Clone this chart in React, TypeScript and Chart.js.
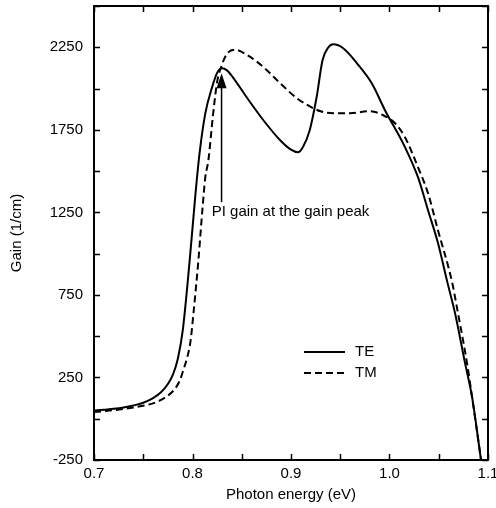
import React, { useEffect, useRef } from "react";
import { Chart, registerables } from "chart.js";

Chart.register(...registerables);

const teX = [0.7, 0.71, 0.72, 0.73, 0.74, 0.75, 0.76, 0.768, 0.775, 0.78, 0.785, 0.79, 0.797, 0.803, 0.807, 0.813, 0.82, 0.825, 0.83, 0.835, 0.841, 0.855, 0.872, 0.889, 0.9, 0.907, 0.912, 0.919, 0.926, 0.932, 0.938, 0.943, 0.953, 0.967, 0.982, 0.9954, 1.0157, 1.0289, 1.0391, 1.0492, 1.0584, 1.0665, 1.0767, 1.0838, 1.0929];
const teY = [50, 55, 60, 68, 80, 97, 125, 160, 210, 265, 360, 530, 950, 1360, 1600, 1850, 2010, 2095, 2123, 2110, 2068, 1947, 1808, 1687, 1630, 1614, 1645, 1748, 1947, 2171, 2250, 2268, 2244, 2153, 2032, 1869, 1645, 1463, 1263, 1064, 835, 640, 337, 132, -250];

const tmX = [0.7, 0.72, 0.74, 0.755, 0.765, 0.775, 0.782, 0.787, 0.791, 0.795, 0.798, 0.801, 0.806, 0.81, 0.813, 0.816, 0.821, 0.825, 0.829, 0.835, 0.843, 0.855, 0.872, 0.889, 0.906, 0.917, 0.93, 0.943, 0.96, 0.98, 0.993, 1.0056, 1.0157, 1.0289, 1.0391, 1.0492, 1.0635, 1.0695, 1.0787, 1.0838, 1.093];
const tmY = [40, 52, 68, 85, 105, 140, 180, 230, 300, 380, 470, 640, 960, 1263, 1463, 1560, 1850, 2040, 2130, 2210, 2235, 2205, 2130, 2032, 1941, 1899, 1862, 1850, 1850, 1863, 1840, 1790, 1705, 1524, 1366, 1142, 828, 640, 337, 132, -250];

const seriesNames = ["TE", "TM"];
const xTitle = "Photon energy (eV)";
const yTitle = "Gain (1/cm)";
const annotationText = "PI gain at the gain peak";
const arrowX = 0.8295;
const arrowFromY = 1312;
const arrowToY = 2093;
const annotationTextX = 0.8195;
const annotationTextY = 1251;
const legendX = [0.9132, 0.9548, 0.9650];
const legendY = [404, 277];

const FONT = "'Liberation Sans', Arial, Helvetica, sans-serif";

const decorPlugin = {
  id: "decor",
  afterDraw(chart: any) {
    const { ctx, chartArea: a, scales } = chart;
    const xs = scales.x;
    const ys = scales.y;
    ctx.save();
    ctx.strokeStyle = "#000";
    ctx.fillStyle = "#000";
    // inward ticks
    ctx.lineWidth = 1.5;
    const tl = 6;
    ctx.beginPath();
    for (const t of xs.ticks) {
      const px = Math.round(xs.getPixelForValue(t.value)) + 0.5;
      ctx.moveTo(px, a.bottom);
      ctx.lineTo(px, a.bottom - tl);
      ctx.moveTo(px, a.top);
      ctx.lineTo(px, a.top + tl);
    }
    for (const t of ys.ticks) {
      const py = Math.round(ys.getPixelForValue(t.value)) + 0.5;
      ctx.moveTo(a.left, py);
      ctx.lineTo(a.left + tl, py);
      ctx.moveTo(a.right, py);
      ctx.lineTo(a.right - tl, py);
    }
    ctx.stroke();
    // frame
    ctx.lineWidth = 2;
    ctx.strokeRect(a.left, a.top, a.right - a.left, a.bottom - a.top);

    // arrow
    const ax = xs.getPixelForValue(arrowX);
    const ay0 = ys.getPixelForValue(arrowFromY);
    const ay1 = ys.getPixelForValue(arrowToY);
    ctx.lineWidth = 1.5;
    ctx.beginPath();
    ctx.moveTo(ax, ay0);
    ctx.lineTo(ax, ay1 + 12);
    ctx.stroke();
    ctx.beginPath();
    ctx.moveTo(ax, ay1);
    ctx.lineTo(ax - 5, ay1 + 15);
    ctx.lineTo(ax + 5, ay1 + 15);
    ctx.closePath();
    ctx.fill();

    ctx.font = `15px ${FONT}`;
    ctx.textBaseline = "middle";
    ctx.textAlign = "left";
    ctx.fillText(annotationText, xs.getPixelForValue(annotationTextX), ys.getPixelForValue(annotationTextY));

    // legend
    const lx0 = xs.getPixelForValue(legendX[0]);
    const lx1 = xs.getPixelForValue(legendX[1]);
    const tx = xs.getPixelForValue(legendX[2]);
    for (let i = 0; i < seriesNames.length; i++) {
      const py = ys.getPixelForValue(legendY[i]);
      ctx.lineWidth = 2;
      ctx.setLineDash(i === 0 ? [] : [7, 4]);
      ctx.beginPath();
      ctx.moveTo(lx0, py);
      ctx.lineTo(lx1, py);
      ctx.stroke();
      ctx.setLineDash([]);
      ctx.fillText(seriesNames[i], tx, py);
    }
    ctx.restore();
  },
};

export default function App() {
  const ref = useRef<HTMLCanvasElement | null>(null);
  useEffect(() => {
    if (!ref.current) return;
    const chart = new Chart(ref.current, {
      type: "line",
      data: {
        datasets: [
          {
            label: seriesNames[0],
            data: teX.map((x, i) => ({ x, y: teY[i] })),
            borderColor: "#000",
            borderWidth: 2,
            pointRadius: 0,
            cubicInterpolationMode: "monotone",
            fill: false,
          },
          {
            label: seriesNames[1],
            data: tmX.map((x, i) => ({ x, y: tmY[i] })),
            borderColor: "#000",
            borderWidth: 2,
            borderDash: [7, 4],
            pointRadius: 0,
            cubicInterpolationMode: "monotone",
            fill: false,
          },
        ],
      },
      options: {
        animation: false,
        responsive: false,
        clip: false as any,
        layout: { padding: { top: 6, right: 8, left: 0, bottom: 0 } },
        plugins: {
          legend: { display: false },
          tooltip: { enabled: false },
        },
        scales: {
          x: {
            type: "linear",
            min: 0.7,
            max: 1.1,
            grid: { display: false, drawTicks: false },
            border: { display: false },
            ticks: {
              stepSize: 0.05,
              autoSkip: false,
              maxRotation: 0,
              padding: 5,
              color: "#000",
              font: { family: FONT, size: 15 },
              callback: (v: any) => {
                const n = Math.round(Number(v) * 100);
                return n % 10 === 0 ? (n / 100).toFixed(1) : "";
              },
            },
            title: {
              display: true,
              text: xTitle,
              color: "#000",
              font: { family: FONT, size: 15 },
              padding: { top: 0, bottom: 4 },
            },
            afterFit: (s: any) => {
              s.height = 48;
              s.paddingLeft = 0;
              s.paddingRight = 0;
            },
          },
          y: {
            type: "linear",
            min: -250,
            max: 2500,
            grid: { display: false, drawTicks: false },
            border: { display: false },
            ticks: {
              stepSize: 250,
              autoSkip: false,
              padding: 11,
              color: "#000",
              font: { family: FONT, size: 15 },
              callback: (v: any) => {
                const n = Math.round(Number(v));
                return (n + 250) % 500 === 0 ? String(n) : "";
              },
            },
            title: {
              display: true,
              text: yTitle,
              color: "#000",
              font: { family: FONT, size: 15 },
              padding: { top: 8, bottom: 0 },
            },
            afterFit: (s: any) => {
              s.width = 94;
              s.paddingTop = 0;
              s.paddingBottom = 0;
            },
          },
        },
      },
      plugins: [decorPlugin],
    });
    return () => chart.destroy();
  }, []);
  return (
    <div style={{ position: "absolute", left: 0, top: 0, width: 496, height: 508, background: "#fff" }}>
      <canvas ref={ref} width={496} height={508} />
    </div>
  );
}
